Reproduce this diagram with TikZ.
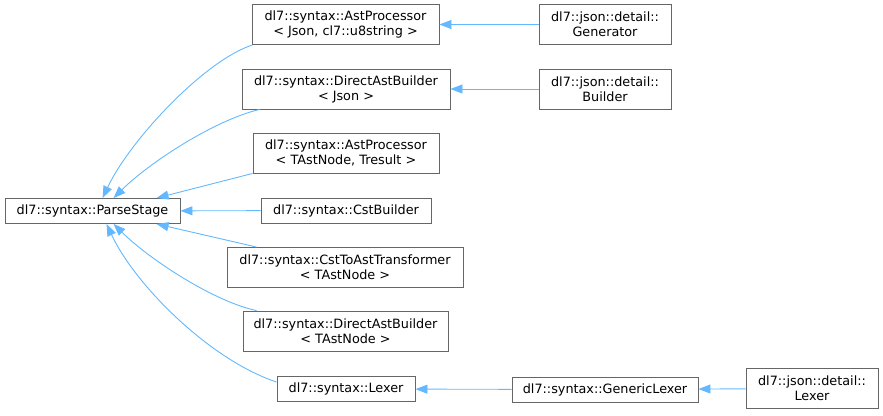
\documentclass[tikz,border=0pt]{standalone}
\usepackage{fontspec}
\setmainfont{DejaVu Sans}
\usetikzlibrary{arrows.meta}
\definecolor{edgeblue}{HTML}{63B8FF}
\definecolor{boxgray}{HTML}{666666}

\begin{document}
\begin{tikzpicture}[
  x=1pt, y=-1pt,
  box/.style={draw=boxgray, fill=white, line width=0.9pt, align=center, inner sep=0pt, minimum height=25pt, font=\fontsize{12.8}{15}\selectfont},
  box2/.style={box, minimum height=40pt},
  arr/.style={-{Triangle[length=12pt, width=9pt]}, draw=edgeblue, line width=0.9pt}
]
\useasboundingbox (0,0) rectangle (883,415);
% base class
\node[box, minimum width=175pt] (ps) at (92.5,211) {dl7::syntax::ParseStage};
% direct subclasses
\node[box2, minimum width=187pt] (astj) at (345.5,24.5) {dl7::syntax::AstProcessor\\< Json, cl7::u8string >};
\node[box2, minimum width=208pt] (dabj) at (346,89) {dl7::syntax::DirectAstBuilder\\< Json >};
\node[box2, minimum width=186pt] (astt) at (346,153) {dl7::syntax::AstProcessor\\< TAstNode, Tresult >};
\node[box, minimum width=170pt] (cst) at (346,210.5) {dl7::syntax::CstBuilder};
\node[box2, minimum width=236pt] (c2a) at (345,267.5) {dl7::syntax::CstToAstTransformer\\< TAstNode >};
\node[box2, minimum width=205pt] (dabt) at (345.5,331) {dl7::syntax::DirectAstBuilder\\< TAstNode >};
\node[box, minimum width=138pt] (lex) at (346,389) {dl7::syntax::Lexer};
% json side
\node[box2, minimum width=132pt] (gen) at (605,24.5) {dl7::json::detail::\\Generator};
\node[box2, minimum width=132pt] (bld) at (605,89) {dl7::json::detail::\\Builder};
\node[box, minimum width=186pt] (glex) at (605,389.5) {dl7::syntax::GenericLexer};
\node[box2, minimum width=132pt] (jlex) at (812,388.5) {dl7::json::detail::\\Lexer};

\draw[arr] ([xshift=1pt]astj.south west) .. controls (205,60) and (130,140) .. ([xshift=98pt]ps.north west);
\draw[arr] ([xshift=18pt]dabj.south west) .. controls (215,120) and (150,162) .. ([xshift=109pt]ps.north west);
\draw[arr] (astt.south west) -- ([xshift=152pt]ps.north west);
\draw[arr] (cst) -- (ps);
\draw[arr] ([xshift=30pt]c2a.north west) -- ([xshift=152pt]ps.south west);
\draw[arr] ([xshift=14pt]dabt.north west) .. controls (215,302) and (150,260) .. ([xshift=109pt]ps.south west);
\draw[arr] ([yshift=7pt]lex.west) .. controls (210,360) and (135,285) .. ([xshift=102pt]ps.south west);
\draw[arr] (gen) -- (astj);
\draw[arr] (bld) -- (dabj);
\draw[arr] (glex) -- (lex);
\draw[arr] (jlex) -- (glex);
\end{tikzpicture}
\end{document}
